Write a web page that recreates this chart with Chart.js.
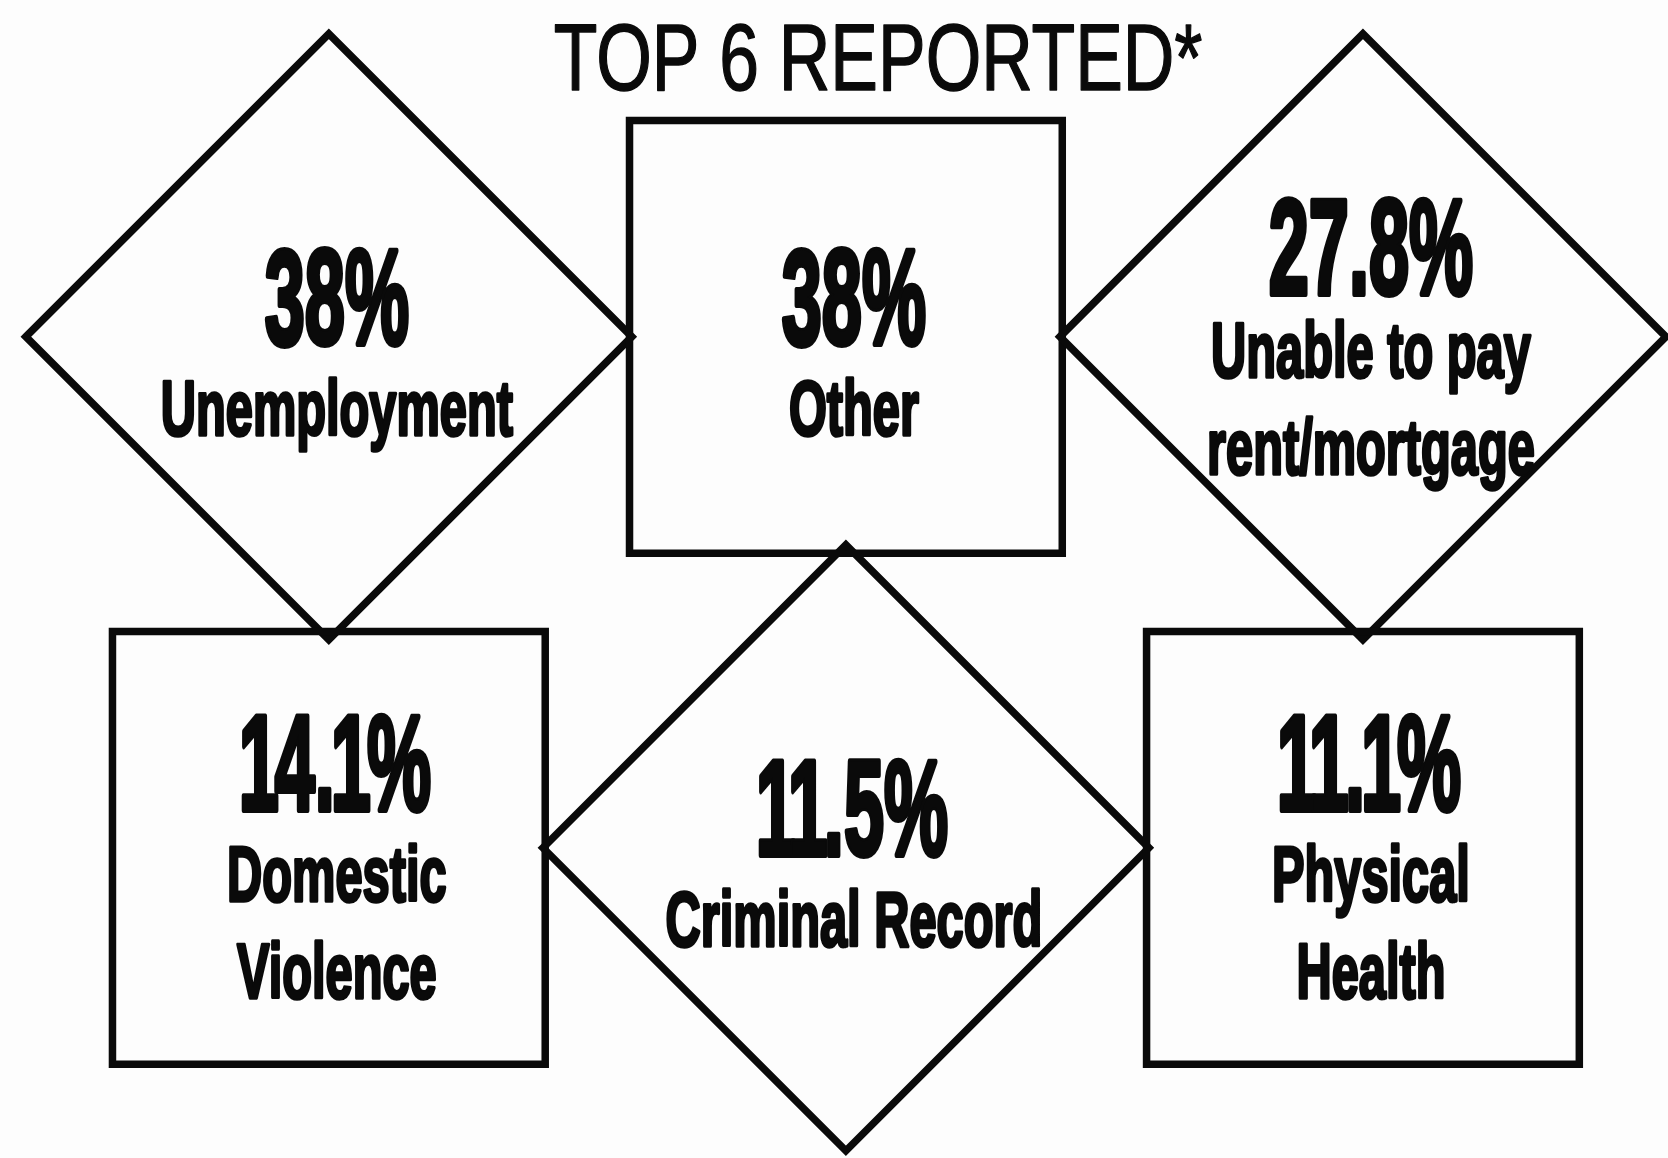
<!DOCTYPE html>
<html>
<head>
<meta charset="utf-8">
<script src="https://cdn.jsdelivr.net/npm/chart.js@4.4.1/dist/chart.umd.min.js"></script>
<style>
  html, body { margin: 0; padding: 0; background: #fdfdfd; }
  #wrap { width: 1668px; height: 1158px; position: relative; }
</style>
</head>
<body>
<div id="wrap"><canvas id="tiles"></canvas></div>
<script>
// Infographic values
const TITLE = 'TOP 6 REPORTED*';
const categories = [
  ['Unemployment'],
  ['Other'],
  ['Unable to pay', 'rent/mortgage'],
  ['Domestic', 'Violence'],
  ['Criminal Record'],
  ['Physical', 'Health']
];
const percents = [38, 38, 27.8, 14.1, 11.5, 11.1];

const COLS = 3;
const INK = '#0a0a0a';

// tiles alternate diamond / square like a checkerboard
const shapeFor = i => ((i % COLS) + Math.floor(i / COLS)) % 2 === 0 ? 'rectRot' : 'rect';

function condensedText(ctx, text, x, y, font, sx, stroke) {
  ctx.save();
  ctx.translate(x, y);
  ctx.scale(sx, 1);
  ctx.font = font;
  ctx.textAlign = 'center';
  ctx.textBaseline = 'alphabetic';
  ctx.fillStyle = INK;
  ctx.strokeStyle = INK;
  ctx.lineJoin = 'round';
  if (stroke) {
    ctx.lineWidth = stroke;
    ctx.strokeText(text, 0, 0);
  }
  ctx.fillText(text, 0, 0);
  ctx.restore();
}

// big numbers: the poster font has a narrow "1", so squeeze its slot a bit
function bigNumber(ctx, text, x, y, font, sx, stroke) {
  ctx.save();
  ctx.translate(x, y);
  ctx.scale(sx, 1);
  ctx.font = font;
  ctx.textAlign = 'center';
  ctx.textBaseline = 'alphabetic';
  ctx.fillStyle = INK;
  ctx.strokeStyle = INK;
  ctx.lineJoin = 'round';
  ctx.lineWidth = stroke;
  const chars = text.split('');
  const w = chars.map(ch => ctx.measureText(ch).width * (ch === '1' ? 0.8 : 1));
  let pos = -w.reduce((a, b) => a + b, 0) / 2;
  chars.forEach((ch, k) => {
    const c = pos + w[k] / 2;
    ctx.strokeText(ch, c, 0);
    ctx.fillText(ch, c, 0);
    pos += w[k];
  });
  ctx.restore();
}

const bgPlugin = {
  id: 'paper',
  beforeDraw(chart) {
    const { ctx, width, height } = chart;
    ctx.save();
    ctx.fillStyle = '#fdfdfd';
    ctx.fillRect(0, 0, width, height);
    ctx.restore();
  }
};

const titlePlugin = {
  id: 'bigTitle',
  afterDraw(chart) {
    condensedText(chart.ctx, TITLE, 878, 90, '400 94px "Liberation Sans"', 0.76, 1.5);
  }
};

const tileText = {
  id: 'tileText',
  afterDatasetsDraw(chart) {
    const ctx = chart.ctx;
    const meta = chart.getDatasetMeta(0);
    meta.data.forEach((pt, i) => {
      const lines = categories[i];
      const extra = lines.length - 1;
      const diamond = shapeFor(i) === 'rectRot';
      const pctShift = extra * (diamond ? 50 : 45);
      const lineShift = extra * (diamond ? 58 : 45);
      const cx = pt.x + 8;
      bigNumber(ctx, percents[i] + '%', cx, pt.y + 7 - pctShift,
        'bold 136px "Liberation Sans"', 0.53, 6);
      lines.forEach((ln, k) => {
        condensedText(ctx, ln, cx, pt.y + 98 - lineShift + 97 * k,
          'bold 78px "Liberation Sans"', 0.625, 3.5);
      });
    });
  }
};

new Chart(document.getElementById('tiles'), {
  type: 'scatter',
  data: {
    datasets: [{
      data: percents.map((v, i) => ({ x: i % COLS, y: Math.floor(i / COLS) })),
      pointStyle: percents.map((v, i) => shapeFor(i)),
      pointRadius: percents.map((v, i) => shapeFor(i) === 'rect' ? 306 : 303),
      pointHoverRadius: percents.map((v, i) => shapeFor(i) === 'rect' ? 306 : 303),
      backgroundColor: 'rgba(0,0,0,0)',
      borderColor: INK,
      borderWidth: 7.5,
      hoverBorderWidth: 7.5,
      clip: false
    }]
  },
  options: {
    responsive: true,
    maintainAspectRatio: false,
    animation: false,
    events: [],
    layout: { padding: 0, autoPadding: false },
    plugins: {
      legend: { display: false },
      tooltip: { enabled: false }
    },
    scales: {
      x: { type: 'linear', display: false, min: -0.636, max: 2.590 },
      y: { type: 'linear', display: false, reverse: true, min: -0.659, max: 1.607 }
    }
  },
  plugins: [bgPlugin, titlePlugin, tileText]
});
</script>
</body>
</html>
